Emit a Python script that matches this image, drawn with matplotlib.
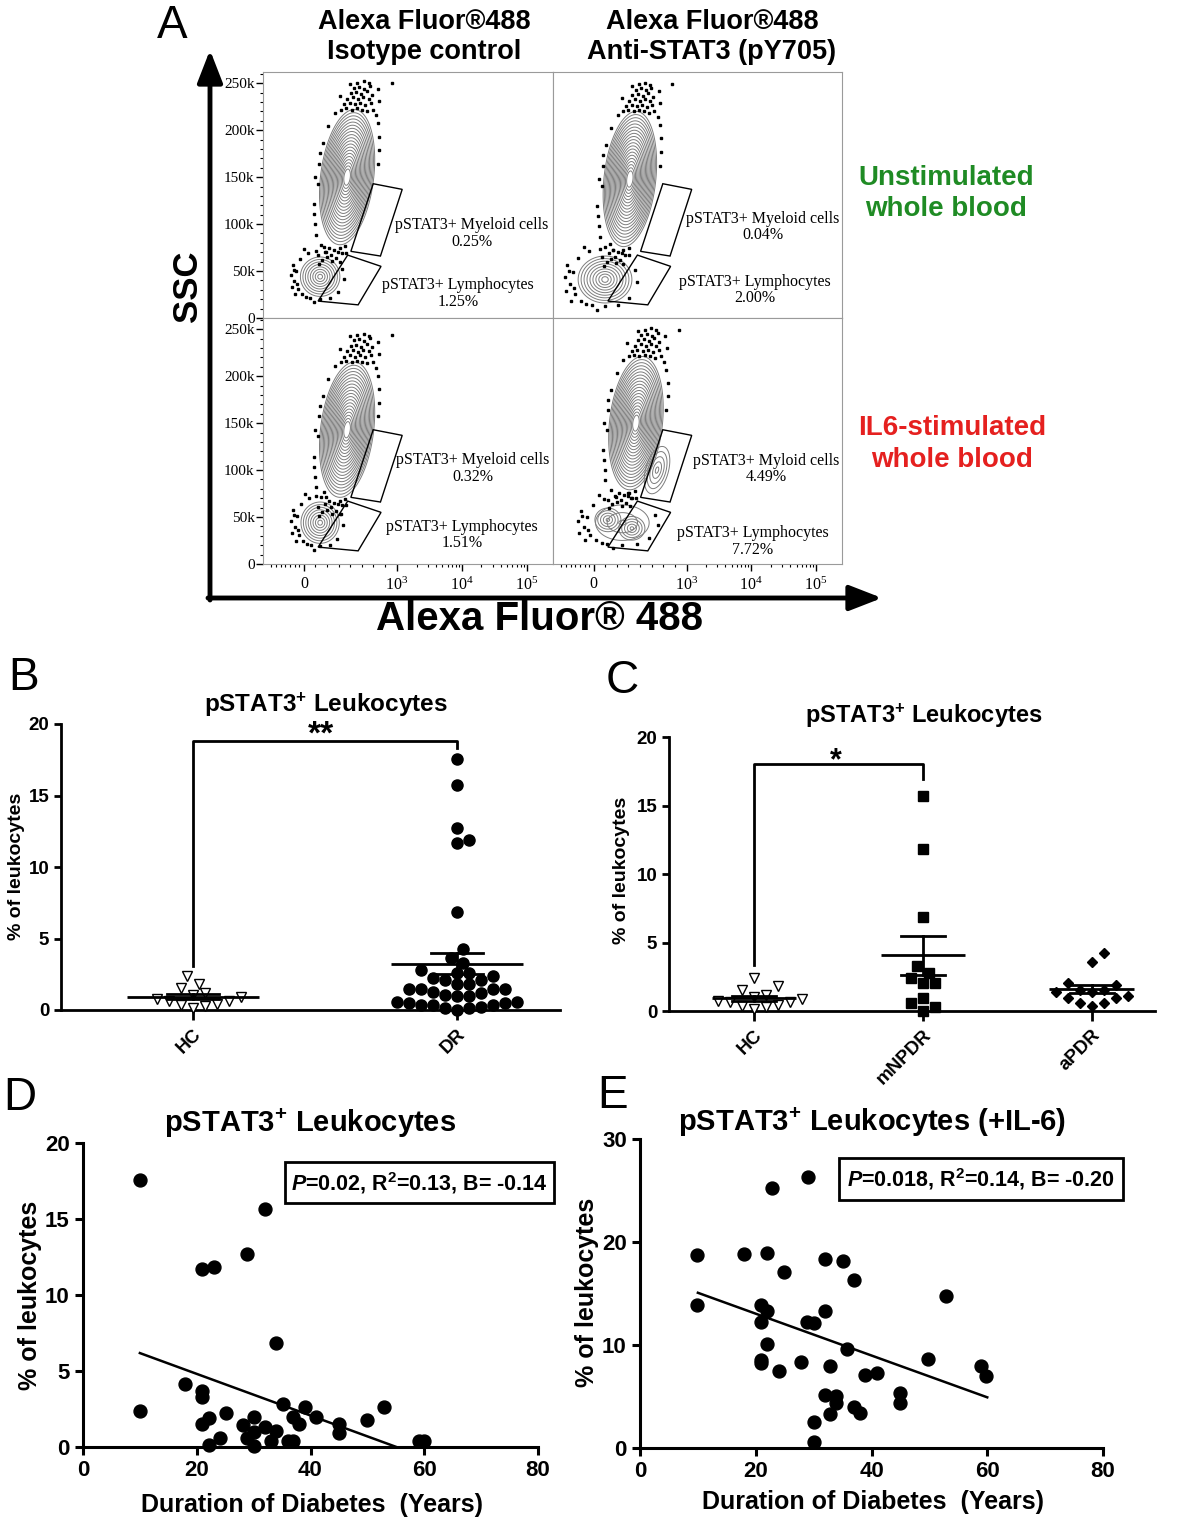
import numpy as np
import matplotlib.pyplot as plt
from matplotlib.patches import Rectangle, Polygon
from matplotlib.ticker import MultipleLocator

plt.rcParams['font.family'] = ['Liberation Sans', 'DejaVu Sans']
plt.rcParams['font.weight'] = 'bold'
plt.rcParams['axes.labelweight'] = 'bold'
plt.rcParams['mathtext.fontset'] = 'custom'
plt.rcParams['mathtext.rm'] = 'Liberation Sans:bold'
plt.rcParams['mathtext.it'] = 'Liberation Sans:italic:bold'
plt.rcParams['mathtext.bf'] = 'Liberation Sans:bold'

# ---------------- values ----------------
# panel A (flow cytometry gates)
col_titles = [('Alexa Fluor®488', 'Isotype control'), ('Alexa Fluor®488', 'Anti-STAT3 (pY705)')]
myeloid_names = ['pSTAT3+ Myeloid cells', 'pSTAT3+ Myeloid cells', 'pSTAT3+ Myeloid cells', 'pSTAT3+ Myloid cells']
myeloid_pct = ['0.25%', '0.04%', '0.32%', '4.49%']
lymph_pct = ['1.25%', '2.00%', '1.51%', '7.72%']
ssc_ticks = [0, 50, 100, 150, 200, 250]
ssc_ticklabels = ['0', '50k', '100k', '150k', '200k', '250k']
fl_ticklabels = ['0', r'$\mathregular{10^3}$', r'$\mathregular{10^4}$', r'$\mathregular{10^5}$']

# panels B and C (% of leukocytes)
hc = [1.05, 0.75, 0.63, 1.52, 0.35, 2.38, 1.17, 0.12, 1.82, 0.28, 0.42, 0.63, 0.89]
dr = [17.55, 15.7, 12.72, 11.86, 11.67, 6.88, 4.25, 3.62, 3.31, 2.8, 2.61, 2.22, 2.1, 2.1, 2.4, 2.61,
      1.82, 1.82, 1.47, 1.47, 1.28, 1.05, 1.17, 1.45, 1.45, 0.98, 0.98, 0.58, 0.47, 0.35, 0.35, 0.23,
      0.35, 0.47, 0.58, 0.0, 0.12, 0.12]
mnpdr = [15.71, 11.81, 6.85, 3.29, 2.8, 2.39, 2.02, 2.02, 0.93, 0.56, 0.02, 0.32]
apdr = [4.21, 3.6, 2.07, 1.9, 1.53, 1.41, 1.41, 1.53, 0.93, 0.61, 0.37, 0.61, 0.93, 1.1]
b_groups = ['HC', 'DR']
c_groups = ['HC', 'mNPDR', 'aPDR']

# panel D
d_years = [10.1, 10.1, 32.0, 28.9, 20.9, 23.0, 34.0, 18.0, 20.9, 20.9, 35.1, 39.0, 53.0, 25.1, 30.1,
           37.0, 41.0, 22.2, 49.9, 20.9, 38.0, 28.1, 32.0, 45.0, 30.1, 34.0, 28.9, 45.0, 24.0, 33.0,
           36.0, 37.0, 22.1, 30.1, 59.0, 60.0]
d_pct = [17.54, 2.39, 15.68, 12.72, 11.71, 11.84, 6.84, 4.17, 3.66, 3.29, 2.83, 2.63, 2.63, 2.24, 1.97,
         1.97, 1.97, 1.91, 1.8, 1.51, 1.51, 1.43, 1.29, 1.51, 0.96, 1.03, 0.59, 0.92, 0.59, 0.42,
         0.37, 0.37, 0.15, 0.09, 0.37, 0.37]
d_fit = (-0.137, 7.55)
d_stats = r'$\mathit{P}$=0.02, R$^{2}$=0.13, B= -0.14'

# panel E
e_years = [29.0, 22.8, 9.9, 17.9, 22.0, 31.9, 35.0, 24.8, 36.9, 52.9, 9.9, 20.9, 22.0, 31.9, 20.9,
           28.8, 30.0, 22.0, 35.8, 20.9, 20.9, 27.9, 49.8, 58.9, 32.9, 24.0, 59.8, 38.9, 40.9, 31.9,
           33.8, 33.8, 44.9, 44.9, 36.9, 38.0, 32.9, 30.0, 30.0]
e_pct = [26.28, 25.28, 18.75, 18.82, 18.91, 18.36, 18.2, 17.07, 16.33, 14.71, 13.9, 13.9, 13.26, 13.26,
         12.22, 12.22, 12.12, 10.12, 9.63, 8.5, 8.24, 8.31, 8.63, 7.99, 7.99, 7.5, 7.02, 7.05, 7.27,
         5.17, 5.08, 4.36, 5.33, 4.36, 3.98, 3.39, 3.33, 2.52, 0.58]
e_fit = (-0.203, 17.1)
e_stats = r'$\mathit{P}$=0.018, R$^{2}$=0.14, B= -0.20'
fit_range = [10, 60]

# ---------------- figure in pixel units ----------------
W, H = 1181, 1524
fig = plt.figure(figsize=(W / 100, H / 100), dpi=100)


def px_axes(x0, y0, x1, y1):
    return fig.add_axes([x0 / W, 1 - y1 / H, (x1 - x0) / W, (y1 - y0) / H])


# ---------------- panel A ----------------
gate_my = [(0.38, 143), (0.48, 137), (0.405, 66), (0.303, 71)]
gate_ly = [(0.292, 67), (0.407, 55), (0.328, 14), (0.19, 18)]

# offsets of the sparse events around each population, in population radii
my_dots = [(-0.5, 1.0), (-0.3, 1.02), (-0.1, 1.0), (0.1, 1.02), (0.3, 1.0), (0.5, 0.98), (0.7, 1.0),
           (-0.4, 1.08), (-0.2, 1.1), (0.0, 1.08), (0.2, 1.1), (0.4, 1.07), (0.6, 1.1),
           (-0.3, 1.16), (-0.1, 1.18), (0.1, 1.15), (0.3, 1.18), (0.5, 1.16),
           (-0.2, 1.24), (0.0, 1.26), (0.2, 1.23), (0.4, 1.27), (0.6, 1.22),
           (-0.1, 1.32), (0.1, 1.34), (0.3, 1.31), (0.5, 1.35),
           (0.0, 1.4), (0.25, 1.42), (0.45, 1.39), (-0.25, 1.38), (0.8, 1.3), (1.3, 1.4), (-0.6, 1.2),
           (0.9, 1.12), (-0.7, 0.95), (0.85, 0.92),
           (-1.05, 0.5), (-1.1, 0.2), (-1.05, -0.1), (-1.15, -0.4), (-1.0, -0.7), (-0.9, 0.75),
           (-1.2, 0.0), (-0.95, -0.85), (-1.12, 0.35), (-1.08, -0.55), (1.05, 0.6), (1.1, 0.2),
           (1.1, 0.4), (0.95, 0.8),
           (-0.7, -1.0), (-0.4, -1.05), (-0.2, -1.08), (0.0, -1.05), (0.2, -1.02), (-0.55, -1.1),
           (-0.3, -1.15), (0.1, -1.12), (-0.8, -1.15), (-0.1, -1.2), (-0.6, -1.22), (0.05, -1.25),
           (-0.45, -1.18), (-0.25, -1.24), (-0.05, -1.1), (0.25, -1.12), (-0.7, -1.28)]
ly_dots = [(-1.2, 0.3), (-1.3, -0.2), (-1.1, -0.6), (-0.9, -0.9), (-0.5, -1.1), (0.0, -1.15),
           (-1.4, 0.6), (-1.0, 0.9), (-0.6, 1.2), (-0.2, 1.3), (0.3, 1.25), (1.1, 0.4), (1.2, -0.1),
           (0.9, -0.8), (-1.25, -0.9), (-1.5, 0.1), (-0.3, -1.3), (0.5, -1.1), (-0.8, 1.4), (0.2, 1.5),
           (-1.35, 0.35), (-1.15, -0.35), (-0.7, -1.05), (-1.45, -0.5)]

flow_panels = [
    dict(rect=(263, 72, 553, 318), my=[(0.29, 150, 0.092, 72, 0.00034, 20)],
         ly=[(0.197, 44, 0.068, 21, 0, 8)], tmy=(0.72, 90), tly=(0.672, 26)),
    dict(rect=(553, 72, 842, 318), my=[(0.266, 148, 0.09, 72, 0.0003, 20)],
         ly=[(0.18, 41, 0.093, 25, 0, 9)], tmy=(0.725, 97), tly=(0.70, 30)),
    dict(rect=(263, 318, 553, 564), my=[(0.29, 143, 0.092, 72, 0.00034, 20)],
         ly=[(0.197, 44, 0.066, 22, 0, 8)], tmy=(0.724, 102), tly=(0.686, 31)),
    dict(rect=(553, 318, 842, 564), my=[(0.287, 150, 0.092, 71, 0.0003, 20), (0.36, 100, 0.045, 28, 0.0007, 5)],
         ly=[(0.24, 44, 0.103, 21, 0, 3), (0.19, 47, 0.05, 14, 0, 5), (0.273, 38, 0.05, 14, 0, 5)],
         tmy=(0.737, 101), tly=(0.692, 24)),
]


def draw_pop(ax, cx, cy, a, b, sh, n, dots=None):
    t = np.linspace(0, 2 * np.pi, 120, endpoint=False)
    top = 1.0 if n > 5 else 0.9
    for s in np.linspace(top, 0.12, n):
        y = cy + b * s * np.sin(t)
        x = cx + a * s * np.cos(t) + sh * (y - cy)
        ax.add_patch(Polygon(np.column_stack([x, y]), closed=True, fill=False, ec='#7d7d7d', lw=0.7))
    if dots is not None:
        u, v = np.array(dots).T
        y = cy + v * b
        x = cx + u * a + sh * (y - cy)
        ax.plot(x, y, 's', ms=1.7, color='k', ls='none')


x_major = [0.141, 0.462, 0.686, 0.91]
x_minor = ([0.141 - 0.016 * k for k in range(1, 8)] + [0.141 + 0.04 * k for k in range(1, 8)]
           + [0.462 + 0.224 * np.log10(k) for k in range(2, 10)]
           + [0.686 + 0.224 * np.log10(k) for k in range(2, 10)])

for i, p in enumerate(flow_panels):
    ax = px_axes(*p['rect'])
    ax.set_xlim(0, 1)
    ax.set_ylim(0, 262)
    for sp in ax.spines.values():
        sp.set_color('#9a9a9a')
        sp.set_linewidth(0.8)
    for k, pop in enumerate(p['my']):
        draw_pop(ax, *pop, dots=my_dots if k == 0 else None)
    for k, pop in enumerate(p['ly']):
        draw_pop(ax, *pop, dots=ly_dots if k == 0 else None)
    ax.add_patch(Polygon(gate_my, closed=True, fill=False, ec='k', lw=1.0))
    ax.add_patch(Polygon(gate_ly, closed=True, fill=False, ec='k', lw=1.0))
    ax.text(*p['tmy'], myeloid_names[i] + '\n' + myeloid_pct[i], ha='center', va='center',
            fontfamily='Liberation Serif', fontweight='normal', fontsize=11.5, linespacing=1.05)
    ax.text(*p['tly'], 'pSTAT3+ Lymphocytes\n' + lymph_pct[i], ha='center', va='center',
            fontfamily='Liberation Serif', fontweight='normal', fontsize=11.5, linespacing=1.05)
    if i in (0, 2):
        ax.set_yticks(ssc_ticks)
        ax.set_yticklabels(ssc_ticklabels, fontfamily='Liberation Serif', fontweight='normal', fontsize=11)
        ax.yaxis.set_minor_locator(MultipleLocator(10))
        ax.tick_params(axis='y', which='major', length=5, width=1, pad=1)
        ax.tick_params(axis='y', which='minor', length=2.5, width=0.8)
    else:
        ax.set_yticks([])
    if i in (2, 3):
        ax.set_xticks(x_major)
        ax.set_xticklabels(fl_ticklabels, fontfamily='Liberation Serif', fontweight='normal', fontsize=11.5)
        ax.set_xticks(x_minor, minor=True)
        ax.tick_params(axis='x', which='major', length=5, width=1, pad=4)
        ax.tick_params(axis='x', which='minor', length=2.5, width=0.8)
    else:
        ax.set_xticks([])


# ---------------- panels B and C ----------------
def swarm_offsets(vals, diam, ppu, ppc):
    placed = []
    offs = np.zeros(len(vals))
    cands = [0.0] + [s * k * diam * 0.5 for k in range(1, 80) for s in (1, -1)]
    for i in np.argsort(vals):
        y = vals[i] * ppu
        for x in cands:
            if all((x - px) ** 2 + (y - py) ** 2 >= (0.92 * diam) ** 2 for px, py in placed):
                break
        placed.append((x, y))
        offs[i] = x / ppc
    return offs


def dot_panel(ax, groups, names, markers, ppu, ppc, xlim, cap_px):
    ax.set_xlim(*xlim)
    ax.set_ylim(0, 20)
    for i, (vals, mk) in enumerate(zip(groups, markers)):
        v = np.array(vals, dtype=float)
        off = swarm_offsets(v, mk['diam'], ppu, ppc)
        ax.plot(i + off, v, ls='none', marker=mk['m'], ms=mk['ms'], mfc=mk['fc'], mec='k',
                mew=1.0, clip_on=False, zorder=3)
        m = v.mean()
        se = v.std(ddof=1) / np.sqrt(len(v))
        cw = cap_px / ppc
        ax.plot([i - 0.25, i + 0.25], [m, m], color='k', lw=2, zorder=4, solid_capstyle='butt')
        ax.plot([i, i], [m - se, m + se], color='k', lw=2, zorder=4)
        ax.plot([i - cw, i + cw], [m + se, m + se], color='k', lw=2, zorder=4)
        ax.plot([i - cw, i + cw], [m - se, m - se], color='k', lw=2, zorder=4)
    for s in ['top', 'right']:
        ax.spines[s].set_visible(False)
    for s in ['left', 'bottom']:
        ax.spines[s].set_linewidth(2)
    ax.set_yticks([0, 5, 10, 15, 20])
    ax.set_xticks(range(len(names)))
    ax.set_xticklabels(names, rotation=45, ha='right', rotation_mode='anchor')
    ax.tick_params(axis='both', length=5, width=2, labelsize=13.5)
    ax.tick_params(axis='x', length=7, pad=4)


tri = dict(m='v', ms=7.5, fc='white', diam=12)
circ = dict(m='o', ms=8, fc='k', diam=12)
sq = dict(m='s', ms=6.6, fc='k', diam=12)
dia = dict(m='D', ms=5.4, fc='k', diam=12)

axB = px_axes(61, 724, 560, 1010)
dot_panel(axB, [hc, dr], b_groups, [tri, circ], 14.3, 264, (-0.5, 1.39), 26)
axB.plot([0, 0, 1, 1], [3.08, 18.83, 18.83, 18.32], color='k', lw=2)
axB.text(0.485, 18.6, '**', ha='center', va='baseline', fontsize=24, clip_on=False)

axC = px_axes(669, 737, 1155, 1011)
dot_panel(axC, [hc, mnpdr, apdr], c_groups, [tri, sq, dia], 13.7, 169, (-0.503, 2.375), 22)
axC.plot([0, 0, 1, 1], [3.36, 18.03, 18.03, 16.93], color='k', lw=2)
axC.text(0.485, 17.65, '*', ha='center', va='baseline', fontsize=22, clip_on=False)


# ---------------- panels D and E ----------------
def reg_panel(ax, xs, ys, fit, ymax, ystep):
    ax.set_xlim(0, 80)
    ax.set_ylim(0, ymax)
    ax.plot(xs, ys, 'o', ms=9.3, color='k', clip_on=False, zorder=3)
    fx = np.array(fit_range, dtype=float)
    ax.plot(fx, fit[0] * fx + fit[1], color='k', lw=1.8, zorder=2)
    for s in ['top', 'right']:
        ax.spines[s].set_visible(False)
    for s in ['left', 'bottom']:
        ax.spines[s].set_linewidth(2.2)
    ax.set_xticks([0, 20, 40, 60, 80])
    ax.set_yticks(np.arange(0, ymax + 1, ystep))
    ax.tick_params(axis='both', length=6, width=2.2, labelsize=16)


axD = px_axes(83, 1143, 538, 1447)
reg_panel(axD, d_years, d_pct, d_fit, 20, 5)
axE = px_axes(640, 1139, 1103, 1448)
reg_panel(axE, e_years, e_pct, e_fit, 30, 10)

# ---------------- overlay: labels, arrows, boxes ----------------
ov = fig.add_axes([0, 0, 1, 1], zorder=10)
ov.set_xlim(0, W)
ov.set_ylim(H, 0)
ov.axis('off')
ov.patch.set_visible(False)

for (x, y, s) in [(172, 26, 'A'), (24, 678, 'B'), (622, 681, 'C'), (20, 1098, 'D'), (613, 1096, 'E')]:
    ov.text(x, y, s, ha='center', va='center', fontsize=33, fontweight='normal')

for cx, (l1, l2) in zip([424, 712], col_titles):
    ov.text(cx, 22, l1, ha='center', va='center', fontsize=19.5)
    ov.text(cx, 52, l2, ha='center', va='center', fontsize=19.5)

ov.text(946, 178, 'Unstimulated', ha='center', va='center', fontsize=20, color='#1f8b24')
ov.text(946, 209, 'whole blood', ha='center', va='center', fontsize=20, color='#1f8b24')
ov.text(952, 428, 'IL6-stimulated', ha='center', va='center', fontsize=20, color='#e5201f')
ov.text(952, 460, 'whole blood', ha='center', va='center', fontsize=20, color='#e5201f')

ov.annotate('', xy=(210, 50), xytext=(210, 600),
            arrowprops=dict(arrowstyle='-|>,head_length=0.9,head_width=0.35', lw=3.5, color='k',
                            mutation_scale=22, shrinkA=0, shrinkB=0))
ov.annotate('', xy=(882, 598), xytext=(208, 598),
            arrowprops=dict(arrowstyle='-|>,head_length=0.9,head_width=0.35', lw=3.5, color='k',
                            mutation_scale=22, shrinkA=0, shrinkB=0))
ov.text(188, 286, 'SSC', ha='center', va='center', rotation=90, fontsize=25)
ov.text(540, 619, 'Alexa Fluor® 488', ha='center', va='center', fontsize=29)

# titles and axis labels of B-E
ov.text(326, 705, r'pSTAT3$^{+}$ Leukocytes', ha='center', va='center', fontsize=17.5)
ov.text(924, 716, r'pSTAT3$^{+}$ Leukocytes', ha='center', va='center', fontsize=17)
ov.text(310, 1123, r'pSTAT3$^{+}$ Leukocytes', ha='center', va='center', fontsize=21)
ov.text(872, 1122, r'pSTAT3$^{+}$ Leukocytes (+IL-6)', ha='center', va='center', fontsize=21)
ov.text(17, 866, '% of leukocytes', ha='center', va='center', rotation=90, fontsize=14)
ov.text(621, 870, '% of leukocytes', ha='center', va='center', rotation=90, fontsize=14)
ov.text(30, 1295, '% of leukocytes', ha='center', va='center', rotation=90, fontsize=18)
ov.text(587, 1292, '% of leukocytes', ha='center', va='center', rotation=90, fontsize=18)
ov.text(312, 1505, 'Duration of Diabetes  (Years)', ha='center', va='center', fontsize=18)
ov.text(873, 1502, 'Duration of Diabetes  (Years)', ha='center', va='center', fontsize=18)

ov.add_patch(Rectangle((285, 1162), 269, 41, fc='white', ec='k', lw=2))
ov.text(419.5, 1183, d_stats, ha='center', va='center', fontsize=15.5)
ov.add_patch(Rectangle((839, 1158), 284, 42, fc='white', ec='k', lw=2))
ov.text(981, 1179, e_stats, ha='center', va='center', fontsize=15.5)

fig.savefig('out.png', dpi=100)
